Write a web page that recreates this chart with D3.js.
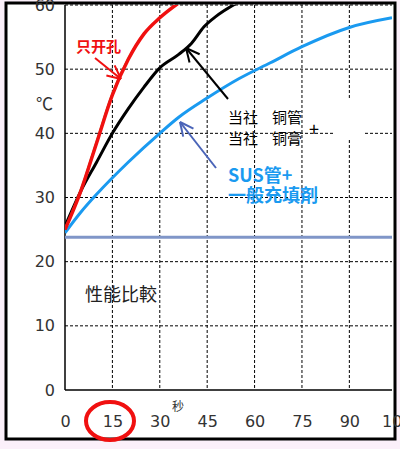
<!DOCTYPE html><html><head><meta charset="utf-8"><script src="https://cdn.jsdelivr.net/npm/d3@7"></script>
<style>body{margin:0;background:#fbf0fa}svg{display:block}</style></head><body><svg id="c" width="400" height="449"></svg>
<script>
const xTicks=[0,15,30,45,60,75,90,105];
const yTicks=[0,10,20,30,40,50,60];
const redT=[0,5,10,15,20,25,30,36.5];
const redV=[25,31,38.5,46,51.5,55.5,58,60.5];
const blackT=[0,5,10,15,20,25,30,36,40,44,48,54];
const blackV=[25.5,31,35.5,40,43.8,47.2,50.2,52.3,54,56.6,58.3,60.2];
const blueT=[0,5,10,20,30,36,45,55,65,75,90,103.5];
const blueV=[24.5,27.7,30.5,35.5,40,42.5,45.5,48.5,51,53.5,56.5,58];
const baseT=[0,103.5];const baseV=[23.8,23.8];
const svg=d3.select("#c");
const x=d3.scaleLinear().domain([0,103.5]).range([65,392]);
const y=d3.scaleLinear().domain([0,60]).range([390,5]);
svg.append("rect").attr("x",6).attr("y",3).attr("width",389).attr("height",436).attr("fill","#fff").attr("stroke","#000").attr("stroke-width",3);
const g=svg.append("g");
g.selectAll(".vg").data(xTicks.slice(1,7)).join("line").attr("x1",d=>x(d)).attr("x2",d=>x(d)).attr("y1",5).attr("y2",390).attr("stroke","#000").attr("stroke-dasharray","3,2").attr("stroke-width",1);
g.selectAll(".hg").data(yTicks.slice(1)).join("line").attr("x1",65).attr("x2",392).attr("y1",d=>y(d)).attr("y2",d=>y(d)).attr("stroke","#000").attr("stroke-dasharray","3,2").attr("stroke-width",1);
svg.append("rect").attr("x",335).attr("y",98).attr("width",30).attr("height",40).attr("fill","#fff");
svg.append("line").attr("x1",65).attr("x2",65).attr("y1",5).attr("y2",390).attr("stroke","#000").attr("stroke-width",1.5);
svg.append("line").attr("x1",65).attr("x2",392).attr("y1",390).attr("y2",390).attr("stroke","#000").attr("stroke-width",1.5);
const ax=svg.append("g").attr("transform","translate(0,390)").call(d3.axisBottom(x).tickValues(xTicks).tickSize(0).tickPadding(26));
ax.select(".domain").remove();
ax.selectAll("text").attr("font-family","Verdana, DejaVu Sans").attr("font-size",16).attr("fill","#333");
const ay=svg.append("g").attr("transform","translate(65,0)").call(d3.axisLeft(y).tickValues(yTicks).tickSize(0).tickPadding(10));
ay.select(".domain").remove();
ay.selectAll("text").attr("font-family","Verdana, DejaVu Sans").attr("font-size",16).attr("fill","#333");
const line=d3.line().x(d=>x(d[0])).y(d=>y(d[1])).curve(d3.curveMonotoneX);
const z=(a,b)=>a.map((t,i)=>[t,b[i]]);
svg.append("clipPath").attr("id","cl").append("rect").attr("x",65).attr("y",5).attr("width",327).attr("height",385);
const pg=svg.append("g").attr("clip-path","url(#cl)");
pg.append("path").attr("d",line(z(baseT,baseV))).attr("stroke","#8096c8").attr("stroke-width",3).attr("fill","none");
pg.append("path").attr("d",line(z(blueT,blueV))).attr("stroke","#1a9af0").attr("stroke-width",3).attr("fill","none");
pg.append("path").attr("d",line(z(blackT,blackV))).attr("stroke","#000").attr("stroke-width",3).attr("fill","none");
pg.append("path").attr("d",line(z(redT,redV))).attr("stroke","#4c4").attr("stroke-width",1).attr("fill","none").attr("transform","translate(-1,0)");
pg.append("path").attr("d",line(z(redT,redV))).attr("stroke","#f01010").attr("stroke-width",3.5).attr("fill","none");
function arrow(x1,y1,x2,y2,c){svg.append("line").attr("x1",x1).attr("y1",y1).attr("x2",x2).attr("y2",y2).attr("stroke",c).attr("stroke-width",2);
 const a=Math.atan2(y1-y2,x1-x2);[0.45,-0.45].forEach(o=>svg.append("line").attr("x1",x2).attr("y1",y2).attr("x2",x2+15*Math.cos(a+o)).attr("y2",y2+15*Math.sin(a+o)).attr("stroke",c).attr("stroke-width",2));}
arrow(95,58,121,79,"#f01010");
arrow(228,99,186,48,"#000");
arrow(216,168,180,122,"#4a64b8");
const T=(t,xx,yy,s,c,w)=>svg.append("text").text(t).attr("x",xx).attr("y",yy).attr("font-size",s).attr("fill",c).attr("font-weight",w||"normal").attr("font-family","Noto Sans CJK SC");
T("只开孔",76,52,15,"#f01010","bold");
T("℃",36,110,17,"#333");
T("当社",228,123,15,"#000");T("铜管",272,123,15,"#000");
T("当社",228,144,15,"#000");T("铜膏",272,144,15,"#000");
T("+",309,136,18,"#000");
T("SUS管+",228,182,18,"#1a9af0","bold");
T("一般充填剤",228,202,18,"#1a9af0","bold");
T("性能比較",85,301,18,"#222");
T("秒",172,411,12,"#333");
svg.append("ellipse").attr("cx",110).attr("cy",421).attr("rx",24).attr("ry",19).attr("fill","none").attr("stroke","#f01010").attr("stroke-width",4);
</script></body></html>
